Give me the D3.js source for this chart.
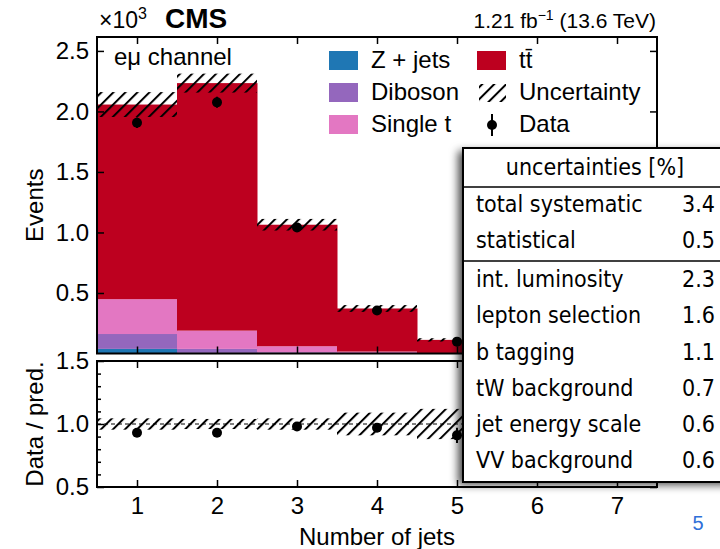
<!DOCTYPE html>
<html>
<head>
<meta charset="utf-8">
<script src="https://cdnjs.cloudflare.com/ajax/libs/d3/7.8.5/d3.min.js"></script>
<style>
  body { margin: 0; background: #fff; }
  svg text { font-family: "Liberation Sans", Arial, sans-serif; fill: #000; }
  .tbl text { font-family: "Liberation Sans Narrow", "DejaVu Sans Condensed", "Roboto", sans-serif; font-stretch: condensed; }
</style>
</head>
<body>
<div id="chart"></div>
<script>
// Values (events x 10^3) per jet multiplicity bin
const nJets = [1, 2, 3, 4, 5, 6, 7];
const zJets = [0.038, 0.005, 0.002, 0.001, 0.0005, 0.0002, 0.0001];
const diboson = [0.123, 0.033, 0.008, 0.003, 0.001, 0.0005, 0.0002];
const singleTop = [0.288, 0.151, 0.050, 0.012, 0.003, 0.001, 0.0003];
const ttbar = [1.608, 2.045, 1.004, 0.356, 0.108, 0.030, 0.008];
const dataCounts = [1.906, 2.075, 1.042, 0.355, 0.098, 0.028, 0.007];
const predUnc = [0.05, 0.035, 0.045, 0.075, 0.12, 0.18, 0.25];   // relative
const ratioVals = [0.93, 0.93, 0.98, 0.97, 0.91, 0.93, 0.90];
const ratioErr = [0.008, 0.008, 0.012, 0.02, 0.06, 0.09, 0.15];
const ratioUnc = [0.045, 0.04, 0.045, 0.09, 0.12, 0.18, 0.25];

const yTicksMain = [0.5, 1.0, 1.5, 2.0, 2.5];
const yTicksRatio = [0.5, 1.0, 1.5];

const processes = [
  { name: "Z + jets", values: zJets, color: "#1f77b4" },
  { name: "Diboson", values: diboson, color: "#9467bd" },
  { name: "Single t", values: singleTop, color: "#e377c2" },
  { name: "tt\u0304", values: ttbar, color: "#bd001f" }
];

const tableRows = [
  ["total systematic", "3.4"],
  ["statistical", "0.5"],
  ["int. luminosity", "2.3"],
  ["lepton selection", "1.6"],
  ["b tagging", "1.1"],
  ["tW background", "0.7"],
  ["jet energy scale", "0.6"],
  ["VV background", "0.6"]
];

const width = 720, height = 549;
const svg = d3.select("#chart").append("svg")
  .attr("width", width)
  .attr("height", height);

const defs = svg.append("defs");
defs.append("pattern")
  .attr("id", "hatch")
  .attr("patternUnits", "userSpaceOnUse")
  .attr("width", 8.5)
  .attr("height", 8.5)
  .attr("patternTransform", "rotate(45)")
  .append("line")
  .attr("x1", 1).attr("y1", 0).attr("x2", 1).attr("y2", 8.5)
  .attr("stroke", "#000")
  .attr("stroke-width", 2);

const shadow = defs.append("filter")
  .attr("id", "shadow")
  .attr("x", "-20%").attr("y", "-20%")
  .attr("width", "140%").attr("height", "140%");
shadow.append("feDropShadow")
  .attr("dx", -5).attr("dy", 3)
  .attr("stdDeviation", 4)
  .attr("flood-color", "#000")
  .attr("flood-opacity", 0.7);

// panels
const xLeft = 97, xRight = 657;
const mainTop = 37, mainBottom = 353.5;
const ratioTop = 361, ratioBottom = 487;

const x = d3.scaleLinear().domain([0.5, 7.5]).range([xLeft, xRight]);
const y = d3.scaleLinear().domain([0, 2.615]).range([mainBottom, mainTop]);
const yR = d3.scaleLinear().domain([0.5, 1.5]).range([ratioBottom, ratioTop]);

// stacked histogram
const stackData = nJets.map(function(n, i) {
  const row = { n: n };
  processes.forEach(function(p) { row[p.name] = p.values[i]; });
  return row;
});
const stack = d3.stack().keys(processes.map(p => p.name));
const layers = stack(stackData);

const main = svg.append("g");
layers.forEach(function(layer, li) {
  main.selectAll(null)
    .data(layer)
    .enter().append("rect")
    .attr("x", d => x(d.data.n - 0.5))
    .attr("width", d => x(d.data.n + 0.5) - x(d.data.n - 0.5) + 0.5)
    .attr("y", d => y(d[1]))
    .attr("height", d => Math.max(0, y(d[0]) - y(d[1])))
    .attr("fill", processes[li].color);
});

const totals = nJets.map((n, i) => processes.reduce((s, p) => s + p.values[i], 0));

// uncertainty band
main.selectAll(".unc")
  .data(nJets)
  .enter().append("rect")
  .attr("class", "unc")
  .attr("x", d => x(d - 0.5))
  .attr("width", d => x(d + 0.5) - x(d - 0.5))
  .attr("y", (d, i) => y(totals[i] * (1 + predUnc[i])))
  .attr("height", (d, i) => y(totals[i] * (1 - predUnc[i])) - y(totals[i] * (1 + predUnc[i])))
  .attr("fill", "url(#hatch)");

// data points
main.selectAll(".dot")
  .data(nJets)
  .enter().append("circle")
  .attr("cx", d => x(d))
  .attr("cy", (d, i) => y(dataCounts[i]))
  .attr("r", 5)
  .attr("fill", "#000");
main.selectAll(".err")
  .data(nJets)
  .enter().append("line")
  .attr("x1", d => x(d)).attr("x2", d => x(d))
  .attr("y1", (d, i) => y(dataCounts[i] + Math.sqrt(dataCounts[i] * 1000) / 1000))
  .attr("y2", (d, i) => y(dataCounts[i] - Math.sqrt(dataCounts[i] * 1000) / 1000))
  .attr("stroke", "#000").attr("stroke-width", 2);

// ratio panel
const ratio = svg.append("g");
ratio.selectAll(".runc")
  .data(nJets)
  .enter().append("rect")
  .attr("x", d => x(d - 0.5))
  .attr("width", d => x(d + 0.5) - x(d - 0.5))
  .attr("y", (d, i) => yR(1 + ratioUnc[i]))
  .attr("height", (d, i) => yR(1 - ratioUnc[i]) - yR(1 + ratioUnc[i]))
  .attr("fill", "url(#hatch)");
ratio.append("line")
  .attr("x1", xLeft).attr("x2", xRight)
  .attr("y1", yR(1)).attr("y2", yR(1))
  .attr("stroke", "#000").attr("stroke-width", 1)
  .attr("stroke-dasharray", "4 3");
ratio.selectAll(".rerr")
  .data(nJets)
  .enter().append("line")
  .attr("x1", d => x(d)).attr("x2", d => x(d))
  .attr("y1", (d, i) => yR(ratioVals[i] + ratioErr[i]))
  .attr("y2", (d, i) => yR(ratioVals[i] - ratioErr[i]))
  .attr("stroke", "#000").attr("stroke-width", 2);
ratio.selectAll(".rdot")
  .data(nJets)
  .enter().append("circle")
  .attr("cx", d => x(d))
  .attr("cy", (d, i) => yR(ratioVals[i]))
  .attr("r", 5)
  .attr("fill", "#000");

// axes
function styleAxis(g, size) {
  g.select(".domain").remove();
  g.selectAll("line").attr("stroke", "#000").attr("stroke-width", 1.5);
  g.selectAll("text").style("font-size", size + "px").attr("fill", "#000");
}

// main panel
svg.append("g")
  .attr("transform", "translate(" + xLeft + ",0)")
  .call(d3.axisLeft(y).tickValues(yTicksMain).tickFormat(d3.format(".1f")).tickSizeInner(-7).tickSizeOuter(0).tickPadding(8))
  .call(g => styleAxis(g, 24));
svg.append("g")
  .attr("transform", "translate(" + xRight + ",0)")
  .call(d3.axisRight(y).tickValues(yTicksMain).tickFormat("").tickSizeInner(-7).tickSizeOuter(0))
  .call(g => styleAxis(g, 24));
svg.append("g")
  .attr("transform", "translate(0," + mainTop + ")")
  .call(d3.axisTop(x).tickValues(nJets).tickFormat("").tickSizeInner(-7).tickSizeOuter(0))
  .call(g => styleAxis(g, 24));
svg.append("g")
  .attr("transform", "translate(0," + mainBottom + ")")
  .call(d3.axisBottom(x).tickValues(nJets).tickFormat("").tickSizeInner(-7).tickSizeOuter(0))
  .call(g => styleAxis(g, 24));

// ratio panel
const minorR = d3.range(6, 15).map(v => v / 10).filter(v => Math.abs(v - 1) > 0.01);
svg.append("g")
  .attr("transform", "translate(" + xLeft + ",0)")
  .call(d3.axisLeft(yR).tickValues(yTicksRatio).tickFormat(d3.format(".1f")).tickSizeInner(-7).tickSizeOuter(0).tickPadding(8))
  .call(g => styleAxis(g, 24));
svg.append("g")
  .attr("transform", "translate(" + xLeft + ",0)")
  .call(d3.axisLeft(yR).tickValues(minorR).tickFormat("").tickSizeInner(-4).tickSizeOuter(0))
  .call(g => styleAxis(g, 24));
svg.append("g")
  .attr("transform", "translate(" + xRight + ",0)")
  .call(d3.axisRight(yR).tickValues(yTicksRatio).tickFormat("").tickSizeInner(-7).tickSizeOuter(0))
  .call(g => styleAxis(g, 24));
svg.append("g")
  .attr("transform", "translate(" + xRight + ",0)")
  .call(d3.axisRight(yR).tickValues(minorR).tickFormat("").tickSizeInner(-4).tickSizeOuter(0))
  .call(g => styleAxis(g, 24));
svg.append("g")
  .attr("transform", "translate(0," + ratioTop + ")")
  .call(d3.axisTop(x).tickValues(nJets).tickFormat("").tickSizeInner(-7).tickSizeOuter(0))
  .call(g => styleAxis(g, 24));
svg.append("g")
  .attr("transform", "translate(0," + ratioBottom + ")")
  .call(d3.axisBottom(x).tickValues(nJets).tickFormat(d3.format("d")).tickSizeInner(-7).tickSizeOuter(0).tickPadding(10))
  .call(g => styleAxis(g, 24));

// frames
[[mainTop, mainBottom], [ratioTop, ratioBottom]].forEach(function(p) {
  svg.append("rect")
    .attr("x", xLeft).attr("y", p[0])
    .attr("width", xRight - xLeft).attr("height", p[1] - p[0])
    .attr("fill", "none").attr("stroke", "#000").attr("stroke-width", 2);
});

// axis titles
svg.append("text")
  .attr("transform", "translate(43," + ((mainTop + mainBottom) / 2 + 10) + ") rotate(-90)")
  .attr("text-anchor", "middle")
  .style("font-size", "24px")
  .text("Events");
svg.append("text")
  .attr("transform", "translate(43," + yR(1) + ") rotate(-90)")
  .attr("text-anchor", "middle")
  .style("font-size", "24px")
  .text("Data / pred.");
svg.append("text")
  .attr("x", x(4)).attr("y", 545)
  .attr("text-anchor", "middle")
  .style("font-size", "24px")
  .text("Number of jets");

// header
const mult = svg.append("text").attr("x", 99).attr("y", 28).style("font-size", "23px");
mult.append("tspan").text("\u00d710");
mult.append("tspan").attr("dy", -9).style("font-size", "16px").text("3");
svg.append("text")
  .attr("x", 165).attr("y", 28)
  .style("font-size", "28px").style("font-weight", "bold")
  .text("CMS");
const lumi = svg.append("text").attr("x", 656).attr("y", 28)
  .attr("text-anchor", "end").style("font-size", "21px");
lumi.append("tspan").text("1.21 fb");
lumi.append("tspan").attr("dy", -8).style("font-size", "14px").text("\u22121");
lumi.append("tspan").attr("dy", 8).text(" (13.6 TeV)");

svg.append("text")
  .attr("x", 114).attr("y", 65)
  .style("font-size", "24px")
  .text("e\u03bc channel");

// legend
const legendItems = [
  { label: "Z + jets", type: "box", color: processes[0].color, col: 0, row: 0 },
  { label: "Diboson", type: "box", color: processes[1].color, col: 0, row: 1 },
  { label: "Single t", type: "box", color: processes[2].color, col: 0, row: 2 },
  { label: "tt\u0304", type: "box", color: processes[3].color, col: 1, row: 0 },
  { label: "Uncertainty", type: "hatch", col: 1, row: 1 },
  { label: "Data", type: "data", col: 1, row: 2 }
];
const legColX = [329, 477];
const legRowY = [51, 83, 115];
legendItems.forEach(function(it) {
  const lx = legColX[it.col], ly = legRowY[it.row];
  if (it.type === "box") {
    svg.append("rect").attr("x", lx).attr("y", ly).attr("width", 29).attr("height", 19).attr("fill", it.color);
  } else if (it.type === "hatch") {
    svg.append("rect").attr("x", lx + 2).attr("y", ly + 1).attr("width", 27).attr("height", 18).attr("fill", "url(#hatch)");
  } else {
    svg.append("line").attr("x1", lx + 15).attr("x2", lx + 15).attr("y1", ly - 1).attr("y2", ly + 21)
      .attr("stroke", "#000").attr("stroke-width", 2);
    svg.append("circle").attr("cx", lx + 15).attr("cy", ly + 10).attr("r", 5).attr("fill", "#000");
  }
  svg.append("text")
    .attr("x", lx + 42).attr("y", ly + 17)
    .style("font-size", "24px")
    .text(it.label);
});

// uncertainty table
const tbl = svg.append("g").attr("class", "tbl");
tbl.append("rect")
  .attr("x", 463).attr("y", 148)
  .attr("width", 280).attr("height", 334)
  .attr("fill", "#fff")
  .attr("filter", "url(#shadow)");
tbl.append("rect")
  .attr("x", 463).attr("y", 148)
  .attr("width", 280).attr("height", 334)
  .attr("fill", "none").attr("stroke", "#000").attr("stroke-width", 2);
tbl.append("text")
  .attr("x", 595).attr("y", 175)
  .attr("text-anchor", "middle")
  .style("font-size", "23px")
  .text("uncertainties [%]");
[187, 261].forEach(function(ly) {
  tbl.append("line").attr("x1", 463).attr("x2", 720).attr("y1", ly).attr("y2", ly)
    .attr("stroke", "#000").attr("stroke-width", 1.5);
});
const rowBase = [212, 248, 287, 323, 360, 396, 432, 468];
tableRows.forEach(function(r, i) {
  tbl.append("text").attr("x", 476).attr("y", rowBase[i]).style("font-size", "23px").text(r[0]);
  tbl.append("text").attr("x", 715).attr("y", rowBase[i]).attr("text-anchor", "end").style("font-size", "23px").text(r[1]);
});

// page number
svg.append("text")
  .attr("x", 698).attr("y", 530)
  .attr("text-anchor", "middle")
  .style("font-size", "20px")
  .style("fill", "#2f6fd8")
  .text("5");
</script>
</body>
</html>
